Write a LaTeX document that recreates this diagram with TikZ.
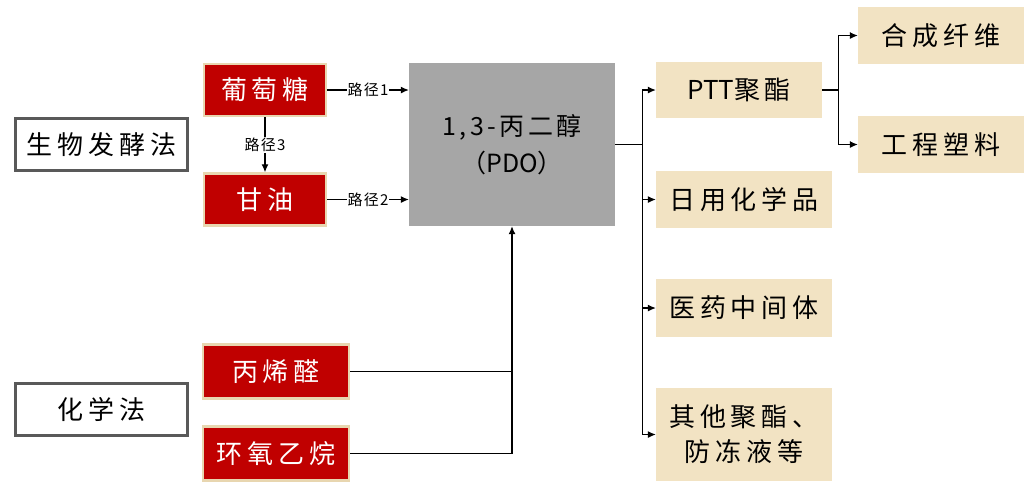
\documentclass[tikz,border=0pt]{standalone}
\usepackage{fontspec}
\setmainfont{Noto Sans CJK SC}
\newfontfamily\cjkls[LetterSpace=19]{Noto Sans CJK SC}
\newfontfamily\cjkpdo[LetterSpace=14]{Noto Sans CJK SC}
\newfontfamily\cjklbl[LetterSpace=8]{Noto Sans CJK SC}
\usetikzlibrary{arrows.meta,calc}
\definecolor{darkred}{HTML}{C00000}
\definecolor{beige}{HTML}{F2E3C3}
\definecolor{beigeedge}{HTML}{E8D6B0}
\definecolor{pdogray}{HTML}{A6A6A6}
\definecolor{frame}{HTML}{595959}
\begin{document}
\begin{tikzpicture}[x=1pt,y=-1pt,
  methodbox/.style={draw=frame, line width=3pt, fill=white, minimum width=172pt, minimum height=52pt, inner sep=0pt, font=\cjkls\fontsize{26}{30}\selectfont},
  redbox/.style={draw=beigeedge, line width=2.5pt, fill=darkred, text=white, inner sep=0pt, font=\cjkls\fontsize{26}{30}\selectfont},
  beigebox/.style={fill=beige, inner sep=0pt, font=\cjkls\fontsize{26}{35}\selectfont, align=center},
  pdobox/.style={fill=pdogray, inner sep=0pt, font=\fontsize{25}{37}\selectfont, align=center},
  lbl/.style={fill=white, inner sep=1pt, font=\cjklbl\fontsize{15}{17}\selectfont},
  conn/.style={draw=black, line width=1.1pt},
  arr/.style={conn, -{Latex[length=8pt,width=7pt]}}
]
\useasboundingbox (0,0) rectangle (1028,483);

% method boxes
\node[methodbox] (bio) at (101.5,144.5) {生物发酵法};
\node[methodbox] (chem) at (101.5,409) {化学法};

% red raw material boxes
\node[redbox, minimum width=122pt, minimum height=52pt] (glu) at (265,90) {葡萄糖};
\node[redbox, minimum width=122pt, minimum height=52pt] (gly) at (265,199.5) {甘油};
\node[redbox, minimum width=146pt, minimum height=54pt] (acr) at (276,371.5) {丙烯醛};
\node[redbox, minimum width=146pt, minimum height=54pt] (eo) at (276,453.5) {环氧乙烷};

% PDO
\node[pdobox, minimum width=206pt, minimum height=163pt] (pdo) at (512,144.5) {{\cjkpdo 1,3-丙二醇}\\（PDO）};

% products
\node[beigebox, minimum width=166pt, minimum height=56pt] (ptt) at (739,90) {\fontspec{Noto Sans CJK SC}\fontsize{26}{30}\selectfont PTT聚\hspace{4pt}酯};
\node[beigebox, minimum width=176pt, minimum height=57pt] (daily) at (744,199.5) {日用化学品};
\node[beigebox, minimum width=176pt, minimum height=58pt] (med) at (744,308) {医药中间体};
\node[beigebox, minimum width=176pt, minimum height=93pt] (other) at (744,434.5) {其他聚酯、\\防冻液等};
\node[beigebox, minimum width=166pt, minimum height=57pt] (fiber) at (941,35.5) {合成纤维};
\node[beigebox, minimum width=166pt, minimum height=57pt] (plastic) at (941,144.5) {工程塑料};

% routes
\draw[arr] (glu.east) -- node[lbl]{路径1} (pdo.west |- glu.east);
\draw[arr] (gly.east) -- node[lbl]{路径2} (pdo.west |- gly.east);
\draw[arr] (glu.south) -- node[lbl]{路径3} (gly.north);

% chemical routes
\draw[conn] (acr.east) -- (acr.east -| pdo.south);
\draw[arr] (eo.east) -| (pdo.south);

% PDO to products
\coordinate (bus) at ($(pdo.east)+(27,0)$);
\draw[conn] (pdo.east) -- (bus);
\draw[arr] (bus) |- (ptt.west);
\draw[arr] (bus) |- (other.west);
\draw[arr] (bus |- daily.west) -- (daily.west);
\draw[arr] (bus |- med.west) -- (med.west);

% PTT to uses
\coordinate (bus2) at ($(ptt.east)+(16,0)$);
\draw[conn] (ptt.east) -- (bus2);
\draw[arr] (bus2) |- (fiber.west);
\draw[arr] (bus2) |- (plastic.west);
\end{tikzpicture}
\end{document}
